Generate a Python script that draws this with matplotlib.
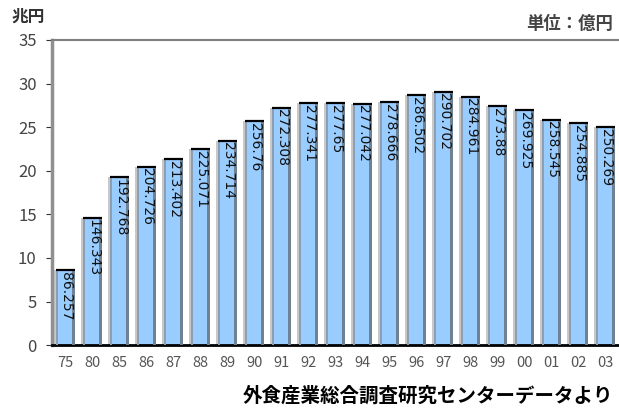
import matplotlib.pyplot as plt
import numpy as np

# 外食産業市場規模（億円）
years = ["75", "80", "85", "86", "87", "88", "89", "90", "91", "92", "93",
         "94", "95", "96", "97", "98", "99", "00", "01", "02", "03"]
labels = ["86.257", "146.343", "192.768", "204.726", "213.402", "225.071",
          "234.714", "256.76", "272.308", "277.341", "277.65", "277.042",
          "278.666", "286.502", "290.702", "284.961", "273.88", "269.925",
          "258.545", "254.885", "250.269"]
values = [float(s) for s in labels]

# 兆円に換算
heights = np.array(values) / 10

plt.rcParams["font.family"] = ["Noto Sans CJK JP", "DejaVu Sans"]

fig = plt.figure(figsize=(6.19, 4.08), dpi=100)
ax = fig.add_axes([0.084, 0.154, 0.916, 0.748])

x = np.arange(len(years))
w = 0.70

# shadow, face, and dark right edge for a little depth
ax.bar(x - 0.06, heights, width=w, color="#c8c8c8", zorder=1)
ax.bar(x, heights, width=w, color="#99ccff", zorder=2)
ax.bar(x + w / 2 - 0.05, heights, width=0.10, color="#6f8294", zorder=3)
ax.bar(x - w / 2 + 0.03, heights, width=0.06, color="#8a9fb5", zorder=3)
ax.hlines(heights, x - w / 2, x + w / 2, color="black", lw=1.6, zorder=4)

for xi, h, s in zip(x, heights, labels):
    ax.text(xi + 0.03, h - 0.2, s, rotation=-90, ha="center", va="top",
            fontsize=10, family="DejaVu Sans", color="#111111", zorder=5)

ax.set_xlim(-0.5, len(years) - 0.5)
ax.set_ylim(0, 35)
ax.set_yticks(range(0, 36, 5))
ax.set_xticks(x)
ax.set_xticklabels(years)
ax.tick_params(axis="x", length=0, pad=8, labelsize=10.5, labelcolor="#555555")
ax.tick_params(axis="y", direction="out", length=4, width=0.8, pad=7,
               labelsize=12, labelcolor="#444444", color="#333333")

ax.spines["left"].set_color("#909090")
ax.spines["left"].set_linewidth(2.5)
ax.spines["top"].set_color("#808080")
ax.spines["top"].set_linewidth(1.5)
ax.spines["bottom"].set_color("black")
ax.spines["bottom"].set_linewidth(2)
ax.spines["right"].set_visible(False)

fig.text(0.018, 0.96, "兆円", fontsize=12, fontweight="bold", color="#333333",
         ha="left", va="center")
fig.text(0.99, 0.94, "単位：億円", fontsize=12.5, fontweight="bold",
         color="#444444", ha="right", va="center")
fig.text(0.99, 0.03, "外食産業総合調査研究センターデータより", fontsize=14,
         fontweight="bold", color="black", ha="right", va="center")

fig.savefig("out.png", dpi=100)
